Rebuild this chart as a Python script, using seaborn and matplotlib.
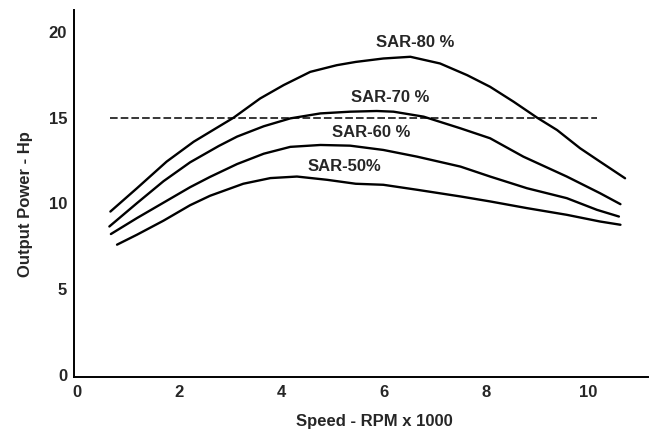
import pandas as pd
import matplotlib
matplotlib.use("Agg")
import matplotlib.pyplot as plt
import seaborn as sns

# Output power curves (Hp) against speed (thousands of RPM)
sar80_rpm = [0.65, 1.17, 1.75, 2.28, 2.77, 3.06, 3.58, 4.04, 4.56, 5.08, 5.45,
             5.99, 6.52, 7.1, 7.63, 8.08, 8.54, 9.0, 9.39, 9.84, 10.23, 10.72]
sar80_hp = [9.53, 10.89, 12.44, 13.6, 14.48, 15.0, 16.12, 16.9, 17.67, 18.06, 18.25,
            18.45, 18.55, 18.16, 17.48, 16.8, 15.93, 15.0, 14.28, 13.22, 12.44, 11.47]

sar70_rpm = [0.63, 1.17, 1.69, 2.21, 2.77, 3.13, 3.65, 4.17, 4.76, 5.34, 5.86,
             6.19, 6.78, 7.5, 8.08, 8.73, 9.58, 10.23, 10.63]
sar70_hp = [8.66, 10.02, 11.3, 12.4, 13.35, 13.9, 14.5, 14.96, 15.25, 15.35, 15.39,
            15.35, 15.06, 14.38, 13.8, 12.73, 11.57, 10.6, 9.96]

sar60_rpm = [0.66, 1.17, 1.69, 2.21, 2.6, 3.13, 3.65, 4.17, 4.76, 5.34, 5.99,
             6.65, 7.5, 8.08, 8.8, 9.58, 10.17, 10.6]
sar60_hp = [8.22, 9.15, 10.05, 10.95, 11.55, 12.3, 12.9, 13.3, 13.41, 13.37, 13.12,
            12.73, 12.15, 11.57, 10.89, 10.31, 9.63, 9.24]

sar50_rpm = [0.78, 1.17, 1.69, 2.21, 2.6, 3.25, 3.78, 4.3, 4.89, 5.45, 5.99,
             6.65, 7.5, 8.08, 8.8, 9.58, 10.23, 10.63]
sar50_hp = [7.6, 8.18, 9.0, 9.9, 10.45, 11.15, 11.48, 11.57, 11.38, 11.15, 11.09,
            10.8, 10.41, 10.12, 9.73, 9.34, 8.95, 8.76]

series_labels = ["SAR-80 %", "SAR-70 %", "SAR-60 %", "SAR-50%"]
label_x = [6.61, 6.13, 5.75, 5.23]
label_y = [19.38, 16.2, 14.12, 12.18]

rated_hp = 15.0
rated_span = [0.65, 10.17]

x_ticks = [0, 2, 4, 6, 8, 10]
y_ticks = [0, 5, 10, 15, 20]

frames = []
for name, xs, ys in zip(series_labels,
                        [sar80_rpm, sar70_rpm, sar60_rpm, sar50_rpm],
                        [sar80_hp, sar70_hp, sar60_hp, sar50_hp]):
    frames.append(pd.DataFrame({"rpm": xs, "hp": ys, "series": name}))
df = pd.concat(frames, ignore_index=True)

sns.set_style("white")
plt.rcParams["font.family"] = ["Liberation Sans", "DejaVu Sans"]

fig = plt.figure(figsize=(6.5, 4.32), dpi=100)
ax = fig.add_axes([0.114, 0.127, 0.883, 0.85])

for name in series_labels:
    sub = df[df["series"] == name]
    sns.lineplot(data=sub, x="rpm", y="hp", ax=ax, color="black",
                 linewidth=1.7, sort=False, estimator=None)

ax.plot(rated_span, [rated_hp, rated_hp], color="black", linewidth=1.1,
        linestyle=(0, (5, 2)))

for txt, lx, ly in zip(series_labels, label_x, label_y):
    ax.text(lx, ly, txt, ha="center", va="center", fontsize=12,
            fontweight="bold")

ax.set_xlim(-0.06, 11.17)
ax.set_ylim(-0.12, 21.28)
ax.set_xticks(x_ticks)
ax.set_yticks(y_ticks)
ax.set_xticklabels([str(t) for t in x_ticks], fontsize=12, fontweight="bold")
ax.set_yticklabels([str(t) for t in y_ticks], fontsize=12, fontweight="bold")
ax.tick_params(axis="y", length=0, pad=5)
ax.tick_params(axis="x", length=0, pad=5.5)

ax.set_xlabel("Speed - RPM x 1000", fontsize=12, fontweight="bold")
ax.set_ylabel("Output Power - Hp", fontsize=12, fontweight="bold")
ax.xaxis.set_label_coords(0.523, -0.12)
ax.yaxis.set_label_coords(-0.085, 0.471)
for lab in (ax.xaxis.label, ax.yaxis.label):
    lab.set_va("center")
    lab.set_ha("center")

sns.despine(ax=ax)
for side in ["left", "bottom"]:
    ax.spines[side].set_color("black")
    ax.spines[side].set_linewidth(1.4)

fig.savefig("out.png", dpi=100)
